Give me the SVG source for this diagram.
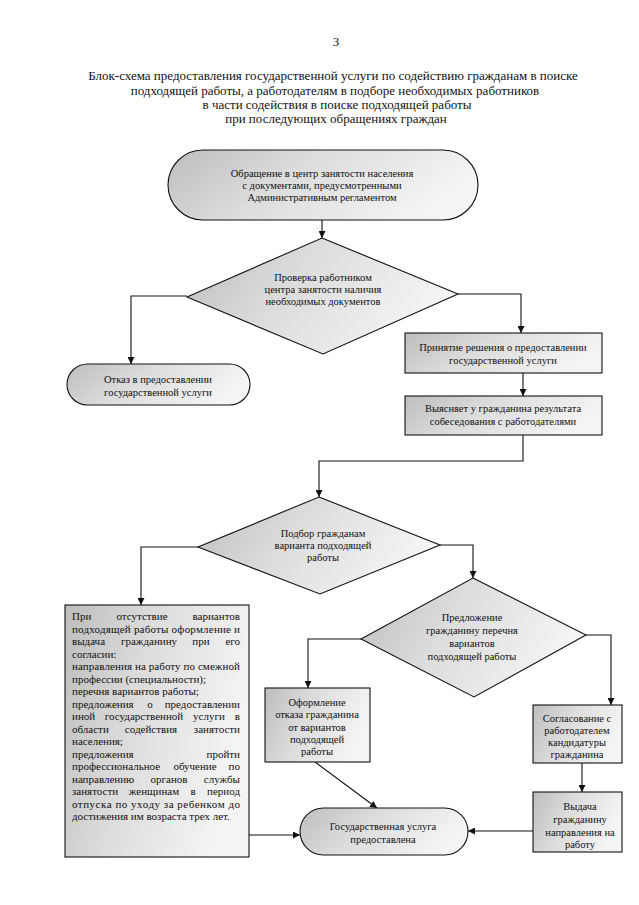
<svg xmlns="http://www.w3.org/2000/svg" width="639" height="905" viewBox="0 0 639 905">
<defs>
<linearGradient id="shade" x1="0" y1="0" x2="1" y2="0.3">
<stop offset="0" stop-color="#bdbdbd"/>
<stop offset="0.45" stop-color="#dcdcdc"/>
<stop offset="1" stop-color="#f4f4f4"/>
</linearGradient>
<marker id="arr" viewBox="0 0 10 10" refX="10" refY="5" markerWidth="7" markerHeight="7" orient="auto" markerUnits="userSpaceOnUse">
<path d="M0,0 L10,5 L0,10 z" fill="#111"/>
</marker>
<style>
.shape{fill:url(#shade);stroke:#111;stroke-width:1.1}
.t{font-family:"Liberation Serif","Times New Roman","DejaVu Serif",serif;font-size:10.5px;fill:#111;text-anchor:middle}
.b{font-family:"Liberation Serif","Times New Roman","DejaVu Serif",serif;font-size:11px;fill:#111}
.m{text-anchor:middle}
.e{text-anchor:end}
.title{font-family:"Liberation Serif","Times New Roman","DejaVu Serif",serif;font-size:13px;fill:#111;text-anchor:middle}
.c{fill:none;stroke:#111;stroke-width:1.1}
</style>
</defs>
<rect width="639" height="905" fill="#fff"/>

<g id="title">
<text class="title" x="336" y="46">3</text>
<text class="title" x="333" y="80">Блок-схема предоставления государственной услуги по содействию гражданам в поиске</text>
<text class="title" x="335" y="95">подходящей работы, а работодателям в подборе необходимых работников</text>
<text class="title" x="337" y="109">в части содействия в поиске подходящей работы</text>
<text class="title" x="336" y="123">при последующих обращениях граждан</text>
</g>

<g id="connectors">
<path class="c" d="M322,220 V238" marker-end="url(#arr)"/>
<path class="c" d="M187,296 H131 V364" marker-end="url(#arr)"/>
<path class="c" d="M458,294 H521 V333" marker-end="url(#arr)"/>
<path class="c" d="M523,373 V396" marker-end="url(#arr)"/>
<path class="c" d="M523,435 V461 H319 V497" marker-end="url(#arr)"/>
<path class="c" d="M198,547 H141 V605" marker-end="url(#arr)"/>
<path class="c" d="M440,545 H473 V578" marker-end="url(#arr)"/>
<path class="c" d="M361,639 H308 V688" marker-end="url(#arr)"/>
<path class="c" d="M586,635 H611 V705" marker-end="url(#arr)"/>
<path class="c" d="M582,763 V792" marker-end="url(#arr)"/>
<path class="c" d="M533,831 H468" marker-end="url(#arr)"/>
<path class="c" d="M315,762 L377,808" marker-end="url(#arr)"/>
<path class="c" d="M249,835 H300" marker-end="url(#arr)"/>
</g>

<g id="start">
<rect class="shape" x="168" y="150" width="310" height="70" rx="35" ry="35"/>
<text class="t" x="322" y="177">Обращение в центр занятости населения</text>
<text class="t" x="322" y="189">с документами, предусмотренными</text>
<text class="t" x="322" y="201">Административным регламентом</text>
</g>

<g id="check">
<polygon class="shape" points="322,238 458,294 323,354 187,297"/>
<text class="t" x="323" y="281">Проверка работником</text>
<text class="t" x="323" y="293">центра занятости наличия</text>
<text class="t" x="323" y="305">необходимых документов</text>
</g>

<g id="refusal">
<rect class="shape" x="67" y="364" width="183" height="41" rx="20.5" ry="20.5"/>
<text class="t" x="158" y="383">Отказ в предоставлении</text>
<text class="t" x="158" y="396">государственной услуги</text>
</g>

<g id="decision">
<rect class="shape" x="405" y="333" width="197" height="40"/>
<text class="t" x="503" y="351">Принятие решения о предоставлении</text>
<text class="t" x="503" y="364">государственной услуги</text>
</g>

<g id="interview">
<rect class="shape" x="405" y="396" width="197" height="39"/>
<text class="t" x="503" y="412">Выясняет у гражданина результата</text>
<text class="t" x="503" y="425">собеседования с работодателями</text>
</g>

<g id="selection">
<polygon class="shape" points="319,497 440,545 320,594 198,547"/>
<text class="t" x="323" y="537">Подбор гражданам</text>
<text class="t" x="323" y="549">варианта подходящей</text>
<text class="t" x="323" y="561">работы</text>
</g>

<g id="noVariants">
<rect class="shape" x="65" y="605" width="184" height="252"/>
<text class="b" y="620"><tspan x="72">При</tspan><tspan x="142" class="m">отсутствие</tspan><tspan x="240" class="e">вариантов</tspan></text>
<text class="b" x="72" y="632.5" textLength="168" lengthAdjust="spacing">подходящей работы оформление и</text>
<text class="b" y="645"><tspan x="72">выдача</tspan><tspan x="149" class="m">гражданину</tspan><tspan x="201" class="m">при</tspan><tspan x="240" class="e">его</tspan></text>
<text class="b" x="72" y="657.5">согласии:</text>
<text class="b" x="72" y="670" textLength="168" lengthAdjust="spacing">направления на работу по смежной</text>
<text class="b" x="72" y="682.5">профессии (специальности);</text>
<text class="b" x="72" y="695">перечня вариантов работы;</text>
<text class="b" y="707.5"><tspan x="72">предложения</tspan><tspan x="150" class="m">о</tspan><tspan x="240" class="e">предоставлении</tspan></text>
<text class="b" y="720"><tspan x="72">иной</tspan><tspan x="144" class="m">государственной</tspan><tspan x="209" class="m">услуги</tspan><tspan x="240" class="e">в</tspan></text>
<text class="b" y="732.5"><tspan x="72">области</tspan><tspan x="151" class="m">содействия</tspan><tspan x="240" class="e">занятости</tspan></text>
<text class="b" x="72" y="745">населения;</text>
<text class="b" y="757.5"><tspan x="72">предложения</tspan><tspan x="240" class="e">пройти</tspan></text>
<text class="b" y="770"><tspan x="72">профессиональное</tspan><tspan x="195" class="m">обучение</tspan><tspan x="240" class="e">по</tspan></text>
<text class="b" y="782.5"><tspan x="72">направлению</tspan><tspan x="169" class="m">органов</tspan><tspan x="240" class="e">службы</tspan></text>
<text class="b" y="795"><tspan x="72">занятости</tspan><tspan x="154" class="m">женщинам</tspan><tspan x="193" class="m">в</tspan><tspan x="240" class="e">период</tspan></text>
<text class="b" x="72" y="807.5" textLength="168" lengthAdjust="spacing">отпуска по уходу за ребенком до</text>
<text class="b" x="72" y="820">достижения им возраста трех лет.</text>
</g>

<g id="offer">
<polygon class="shape" points="473,578 586,635 474,697 361,639"/>
<text class="t" x="472" y="621">Предложение</text>
<text class="t" x="472" y="634">гражданину перечня</text>
<text class="t" x="472" y="647">вариантов</text>
<text class="t" x="472" y="660">подходящей работы</text>
</g>

<g id="refuseVariants">
<rect class="shape" x="265" y="688" width="105" height="74"/>
<text class="t" x="317" y="706">Оформление</text>
<text class="t" x="317" y="718">отказа гражданина</text>
<text class="t" x="317" y="731">от вариантов</text>
<text class="t" x="317" y="743">подходящей</text>
<text class="t" x="317" y="755">работы</text>
</g>

<g id="agree">
<rect class="shape" x="533" y="705" width="89" height="58"/>
<text class="t" x="577" y="722">Согласование с</text>
<text class="t" x="577" y="734">работодателем</text>
<text class="t" x="577" y="746">кандидатуры</text>
<text class="t" x="577" y="758">гражданина</text>
</g>

<g id="issue">
<rect class="shape" x="533" y="792" width="89" height="60"/>
<text class="t" x="580" y="810">Выдача</text>
<text class="t" x="580" y="823">гражданину</text>
<text class="t" x="580" y="836">направления на</text>
<text class="t" x="580" y="848">работу</text>
</g>

<g id="done">
<rect class="shape" x="300" y="808" width="168" height="47" rx="23.5" ry="23.5"/>
<text class="t" x="383" y="830">Государственная услуга</text>
<text class="t" x="383" y="843">предоставлена</text>
</g>
</svg>
